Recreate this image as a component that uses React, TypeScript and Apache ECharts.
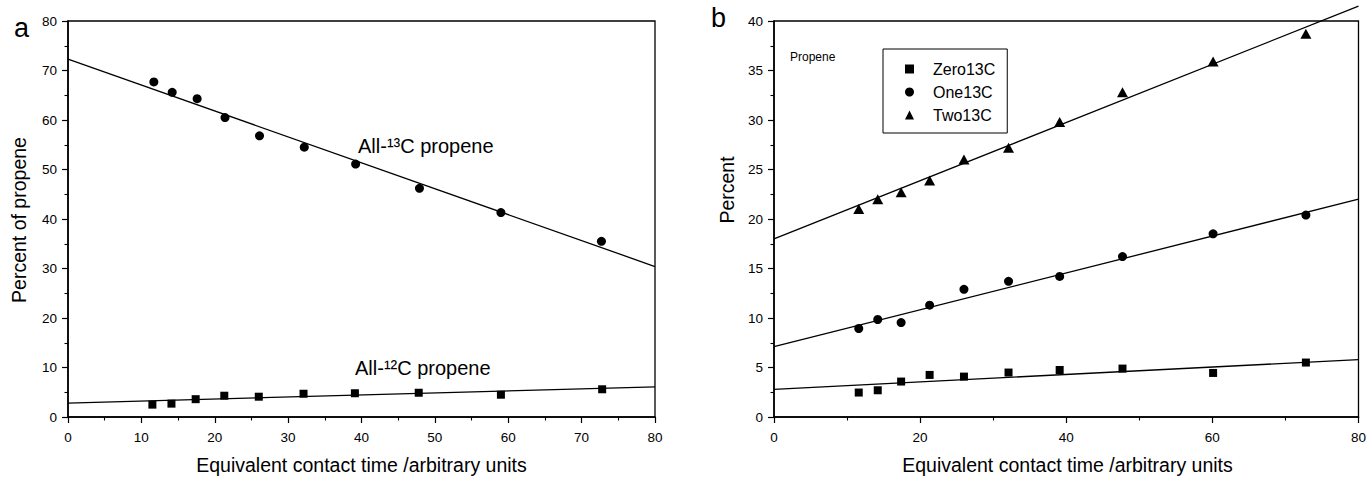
import React, { useEffect, useRef } from "react";
import * as echarts from "echarts";

// Panel a: equivalent contact time vs percent of propene
const timeA = [11.7, 14.2, 17.6, 21.4, 26.1, 32.2, 39.2, 47.9, 59.0, 72.7];
const all13C = [67.7, 65.6, 64.3, 60.5, 56.8, 54.5, 51.1, 46.2, 41.3, 35.5];
const timeA12 = [11.5, 14.1, 17.4, 21.3, 26.0, 32.1, 39.1, 47.8, 59.0, 72.8];
const all12C = [2.5, 2.7, 3.6, 4.3, 4.1, 4.7, 4.8, 4.9, 4.5, 5.6];

// Panel b: isotopomer percentages
const timeB = [11.6, 14.2, 17.4, 21.3, 26.0, 32.1, 39.1, 47.7, 60.1, 72.8];
const zero13C = [2.47, 2.7, 3.58, 4.25, 4.08, 4.49, 4.75, 4.89, 4.45, 5.5];
const one13C = [8.94, 9.85, 9.54, 11.3, 12.9, 13.7, 14.2, 16.2, 18.5, 20.4];
const two13C = [21.0, 22.0, 22.7, 23.9, 26.0, 27.2, 29.8, 32.8, 35.9, 38.7];

// Fitted straight lines (end points at x = 0 and x = 80)
const fitX = [0, 80];
const fit13C = [72.3, 30.4];
const fit12C = [2.8, 6.1];
const fitZero = [2.8, 5.8];
const fitOne = [7.1, 22.0];
const fitTwo = [18.0, 41.5];

const xTicksA = { min: 0, max: 80, interval: 10 };
const yTicksA = { min: 0, max: 80, interval: 10 };
const xTicksB = { min: 0, max: 80, interval: 20 };
const yTicksB = { min: 0, max: 40, interval: 5 };

const legendNames = ["Zero13C", "One13C", "Two13C"];

const FONT = "'Liberation Sans', Arial, Helvetica, sans-serif";
const INK = "#000";

const zip = (xs: number[], ys: number[]) => xs.map((x, i) => [x, ys[i]]);

function axisBase(gridIndex: number, ticks: { min: number; max: number; interval: number }, margin: number) {
  return {
    type: "value",
    gridIndex,
    min: ticks.min,
    max: ticks.max,
    interval: ticks.interval,
    axisLine: { show: true, onZero: false, lineStyle: { color: INK, width: 1.6 } },
    axisTick: { show: true, inside: false, length: 6, lineStyle: { color: INK, width: 1.2 } },
    minorTick: { show: true, splitNumber: 2, length: 3.5, lineStyle: { color: INK, width: 1.1 } },
    splitLine: { show: false },
    minorSplitLine: { show: false },
    axisLabel: { color: INK, fontSize: 13.5, fontFamily: FONT, margin },
  };
}

function scatter(name: string, xi: number, xs: number[], ys: number[], symbol: string, size: any) {
  return {
    type: "scatter",
    name,
    xAxisIndex: xi,
    yAxisIndex: xi,
    symbol,
    symbolSize: size,
    itemStyle: { color: INK, opacity: 1 },
    data: zip(xs, ys),
    z: 3,
  };
}

function fitLine(name: string, xi: number, ys: number[]) {
  return {
    type: "line",
    name,
    xAxisIndex: xi,
    yAxisIndex: xi,
    symbol: "none",
    showSymbol: false,
    clip: false,
    silent: true,
    lineStyle: { color: INK, width: 1.3, opacity: 1 },
    data: zip(fitX, ys),
    z: 2,
  };
}

export default function App() {
  const ref = useRef<HTMLDivElement>(null);

  useEffect(() => {
    if (!ref.current) return;
    const chart = echarts.init(ref.current, null, { renderer: "svg" });
    const gridCommon = {
      show: true,
      borderColor: INK,
      borderWidth: 1.3,
      backgroundColor: "transparent",
      containLabel: false,
    };
    const txt = (extra: any) => ({ fill: INK, fontFamily: FONT, ...extra });
    chart.setOption({
      animation: false,
      backgroundColor: "#fff",
      textStyle: { fontFamily: FONT },
      grid: [
        { ...gridCommon, left: 68, top: 21, width: 587, height: 396 },
        { ...gridCommon, left: 774, top: 21, width: 587, height: 396 },
      ],
      xAxis: [axisBase(0, xTicksA, 13), axisBase(1, xTicksB, 13)],
      yAxis: [axisBase(0, yTicksA, 11), axisBase(1, yTicksB, 11)],
      legend: {
        data: legendNames,
        orient: "vertical",
        left: 883,
        top: 49,
        padding: [12, 12, 10, 22],
        itemGap: 7,
        itemWidth: 9,
        itemHeight: 9,
        borderColor: INK,
        borderWidth: 1,
        backgroundColor: "#fff",
        textStyle: { fontSize: 16, color: INK, fontFamily: FONT, padding: [0, 0, 0, 14] },
      },
      graphic: [
        { type: "text", left: 14, top: 14, style: txt({ text: "a", fontSize: 27 }) },
        { type: "text", left: 711, top: 4, style: txt({ text: "b", fontSize: 27 }) },
        {
          type: "text",
          x: 361.5,
          y: 465,
          style: txt({ text: "Equivalent contact time /arbitrary units", fontSize: 19.5, align: "center", verticalAlign: "middle" }),
        },
        {
          type: "text",
          x: 1067.5,
          y: 465,
          style: txt({ text: "Equivalent contact time /arbitrary units", fontSize: 19.5, align: "center", verticalAlign: "middle" }),
        },
        {
          type: "text",
          x: 19,
          y: 220,
          rotation: Math.PI / 2,
          style: txt({ text: "Percent of propene", fontSize: 19.5, align: "center", verticalAlign: "middle" }),
        },
        {
          type: "text",
          x: 727,
          y: 190,
          rotation: Math.PI / 2,
          style: txt({ text: "Percent", fontSize: 19.5, align: "center", verticalAlign: "middle" }),
        },
        {
          type: "text",
          x: 358,
          y: 146,
          style: txt({ text: "All-¹³C propene", fontSize: 20, align: "left", verticalAlign: "middle" }),
        },
        {
          type: "text",
          x: 355,
          y: 368,
          style: txt({ text: "All-¹²C propene", fontSize: 20, align: "left", verticalAlign: "middle" }),
        },
        {
          type: "text",
          x: 790,
          y: 57,
          style: txt({ text: "Propene", fontSize: 12, align: "left", verticalAlign: "middle" }),
        },
      ],
      series: [
        fitLine("fit13C", 0, fit13C),
        fitLine("fit12C", 0, fit12C),
        scatter("All-13C propene", 0, timeA, all13C, "circle", 9),
        scatter("All-12C propene", 0, timeA12, all12C, "rect", 8),
        fitLine("fitZero", 1, fitZero),
        fitLine("fitOne", 1, fitOne),
        fitLine("fitTwo", 1, fitTwo),
        scatter("Zero13C", 1, timeB, zero13C, "rect", 8),
        scatter("One13C", 1, timeB, one13C, "circle", 9),
        scatter("Two13C", 1, timeB, two13C, "triangle", [11, 10]),
      ],
    });
    return () => chart.dispose();
  }, []);

  return (
    <div
      ref={ref}
      style={{ position: "absolute", left: 0, top: 0, width: 1369, height: 477 }}
    />
  );
}
